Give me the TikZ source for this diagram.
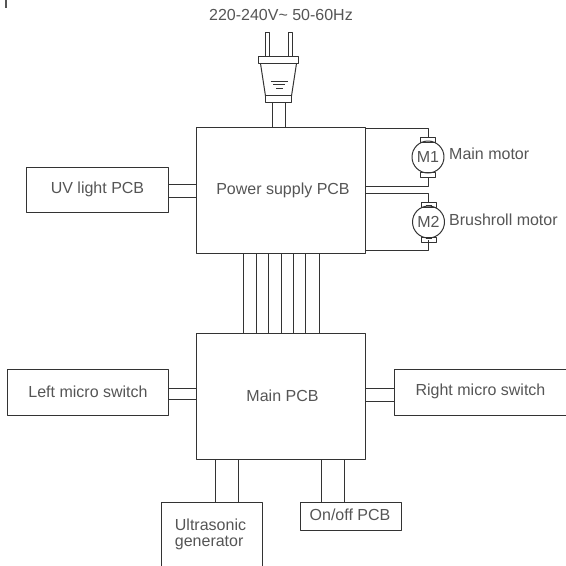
\documentclass[tikz,border=0pt]{standalone}
\usepackage{fontspec}
\setmainfont{Liberation Sans}
\definecolor{wire}{HTML}{333333}
\definecolor{lab}{HTML}{555555}
\tikzset{
	pcb/.style={draw=wire, line width=1pt, rectangle, inner sep=0pt, text=lab, align=center},
	txt/.style={inner sep=0pt, text=lab, align=left},
	brush/.style={draw=wire, line width=1pt, rectangle, inner sep=0pt, minimum width=15pt, minimum height=5pt},
	motor/.style={draw=wire, line width=1pt, circle, inner sep=0pt, minimum size=32pt, text=lab, font=\fontsize{16}{18}\selectfont}
}
\begin{document}
\begin{tikzpicture}[x=1pt,y=-1pt, font=\fontsize{16}{16}\selectfont, line join=round, wire/.style={draw=wire, line width=1pt}]
		\useasboundingbox (0,0) rectangle (566,566);
		\clip (0,0) rectangle (566,566);
		\fill[lab] (4.5,0) rectangle (7,7.5);
		% boards
		\node[pcb, minimum width=169pt, minimum height=125.5pt] (power) at (280.5,190.5) {\hspace*{5pt}Power supply PCB};
		\node[pcb, minimum width=169pt, minimum height=126pt] (mainpcb) at (280.5,396) {\hspace*{4pt}Main PCB};
		\node[pcb, minimum width=141.5pt, minimum height=45.5pt] (uv) at (97.5,190) {\raisebox{4pt}{UV light PCB}};
		\node[pcb, minimum width=160.5pt, minimum height=46pt] (leftsw) at (88,392.5) {\raisebox{1pt}{Left micro switch}};
		\node[pcb, minimum width=101pt, minimum height=28pt] (onoff) at (351,516) {\raisebox{2pt}{On/off PCB\hspace*{2pt}}};
		% open at the page edge
		\draw[wire] (566,369.5)--(394.5,369.5)--(394.5,415.5)--(566,415.5);
		\node[txt] (rightsw) at (480.5,391) {Right micro switch};
		\draw[wire] (161,566)--(161,502.5)--(262,502.5)--(262,566);
		\node[txt] (ultra) at (210.5,534) {Ultrasonic\\generator};
		\coordinate (rightedge) at (394.5,392);
		\coordinate (ultratop) at (211,502.5);
		% plug
		\draw[wire] (265.5,56)--(265.5,32)--(269.5,32)--(269.5,56);
		\draw[wire] (288,56)--(288,32)--(292,32)--(292,56);
		\draw[wire] (258.5,56.5) rectangle (298.5,63.5);
		\draw[wire] (260.5,63.5)--(265.5,96) (296.5,63.5)--(291.5,96);
		\node[draw=wire, line width=1pt, inner sep=0pt, minimum width=26pt, minimum height=6.5pt] (plug) at (278.5,99) {};
		\draw[wire] (270.5,81)--(287.5,81) (273,84.5)--(284.5,84.5) (276,88.5)--(282.5,88.5);
		\node[txt] (mains) at (281,14.5) {220-240V\char`~{} 50-60Hz};
		\foreach \x in {272.5,285}
		\draw[wire] (\x,0 |- plug.south)--(\x,0 |- power.north);
		% motors
		\node[motor] (m1) at (428,157) {M1};
		\node[brush] (m1top) at (428,140) {};
		\node[brush] (m1bot) at (428,174.5) {};
		\node[motor] (m2) at (428.5,222) {M2};
		\node[brush] (m2top) at (428.5,204.5) {};
		\node[brush] (m2bot) at (428.5,239.5) {};
		\draw[wire] (425.5,205)--(431.5,205) (425.5,238.5)--(431.5,238.5);
		\node[txt, anchor=west] (m1name) at (449,154) {Main motor};
		\node[txt, anchor=west] (m2name) at (449,220) {Brushroll motor};
		\draw[wire] (power.east |- 0,128)-|(m1top.north);
		\draw[wire] (power.east |- 0,186)-|(m1bot.south);
		\draw[wire] (power.east |- 0,193)-|(m2top.north);
		\draw[wire] (power.east |- 0,250)-|(m2bot.center);
		% links
		\foreach \x in {243.5,256,268.5,281,293,305.5,319}
		\draw[wire] (\x,0 |- power.south)--(\x,0 |- mainpcb.north);
		\foreach \y in {184,197}
		\draw[wire] (uv.east |- 0,\y)--(power.west |- 0,\y);
		\foreach \y in {388,399.5}
		\draw[wire] (leftsw.east |- 0,\y)--(mainpcb.west |- 0,\y);
		\foreach \y in {388.5,401}
		\draw[wire] (mainpcb.east |- 0,\y)--(rightedge |- 0,\y);
		\foreach \x in {215,238.5}
		\draw[wire] (\x,0 |- mainpcb.south)--(\x,0 |- ultratop);
		\foreach \x in {321,344.5}
		\draw[wire] (\x,0 |- mainpcb.south)--(\x,0 |- onoff.north);
\end{tikzpicture}
\end{document}
